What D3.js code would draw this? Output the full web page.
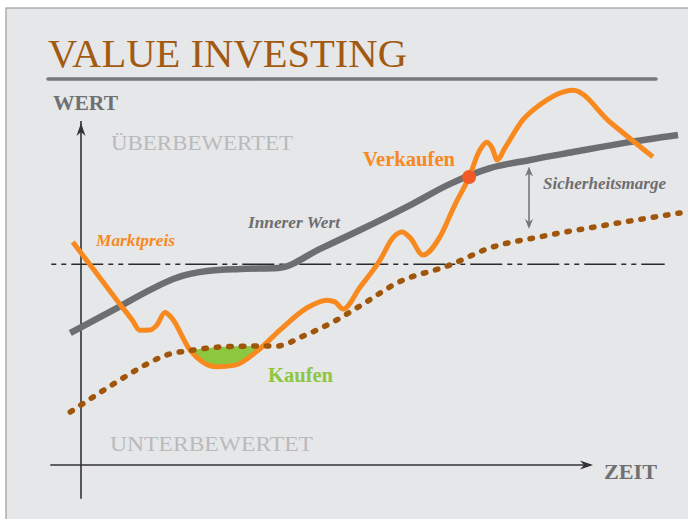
<!DOCTYPE html>
<html><head><meta charset="utf-8">
<script src="https://cdn.jsdelivr.net/npm/d3@7"></script>
<style>html,body{margin:0;padding:0;background:#fff;} svg{display:block;}</style>
</head><body>
<svg id="chart" width="688" height="519"></svg>
<script>
// ---------- DATA (time t, value v; conceptual units) ----------
const innererWert = [[-2.1,38.6],[7.0,45.9],[13.5,51.2],[18.0,54.4],[24.6,56.7],[31.1,57.3],[38.5,57.6],
  [46.7,63.2],[54.5,68.7],[64.3,76.0],[72.1,82.2],[79.9,86.8],[87.7,89.2],[96.1,91.5],[106.2,94.2],[116.6,96.5]];
const marktpreis = [[-1.6,65.2],[2.7,56.7],[7.0,48.2],[10.0,42.4],[11.5,39.4],[13.5,39.5],[14.8,40.9],[16.4,44.6],[17.6,43.2],[21.3,33.6],
  [23.8,30.1],[26.6,28.7],[30.1,29.2],[34.4,33.3],[38.9,39.5],[44.1,45.9],[48.0,48.2],[49.6,47.7],[51.2,45.6],
  [54.5,52.0],[58.4,59.9],[60.9,66.4],[62.7,68.1],[64.3,66.4],[66.8,61.4],[70.1,66.7],[73.0,76.0],[75.8,84.2],
  [77.9,92.1],[79.3,94.4],[80.3,92.7],[81.3,89.2],[82.8,92.7],[86.3,100.9],[89.6,105.3],[96.1,109.6],[103.3,100.3],[111.7,90.1]];
const sicherheitsLinie = [[-2.1,15.5],[7.0,24.3],[11.5,28.4],[16.8,32.2],[21.9,33.6],[27.1,34.5],[35.0,34.8],[38.3,34.8],
  [43.4,37.7],[49.2,41.8],[54.5,46.5],[61.7,53.2],[72.1,58.5],[79.9,63.5],[89.6,66.7],[102.7,70.2],[117.0,73.7]];
const referenzNiveau = [[-6,58.7],[114,58.7]];
const verkaufPunkt = [75.8,84.2];
const margeSpanne = [[87.5,87.3],[87.5,69.0]];
const labels = {title:"VALUE INVESTING", yAxis:"WERT", xAxis:"ZEIT", over:"ÜBERBEWERTET", under:"UNTERBEWERTET",
  market:"Marktpreis", intrinsic:"Innerer Wert", margin:"Sicherheitsmarge", sell:"Verkaufen", buy:"Kaufen"};

// ---------- LAYOUT ----------
const svg = d3.select("#chart");
const x = d3.scaleLinear([0,100],[81,593]);
const y = d3.scaleLinear([0,100],[465,123]);
const serif = "'Liberation Serif','Times New Roman',serif";

svg.append("rect").attr("x",6).attr("y",8).attr("width",700).attr("height",520)
  .attr("fill","#e6e7e8").attr("stroke","#9c9c9c").attr("stroke-width",1.2);

function txt(s,px,py,opt){
  const t = svg.append("text").attr("x",px).attr("y",py).text(s)
    .attr("font-family",serif).attr("font-size",opt.size).attr("fill",opt.fill)
    .attr("font-weight",opt.weight||"normal").attr("font-style",opt.style||"normal");
  if(opt.len) t.attr("textLength",opt.len).attr("lengthAdjust","spacingAndGlyphs");
  return t;
}
txt(labels.title,48,67,{size:40,fill:"#a25a12",len:359});
svg.append("line").attr("x1",48).attr("x2",656).attr("y1",79).attr("y2",79)
  .attr("stroke","#77787a").attr("stroke-width",3.5).attr("stroke-linecap","round");
txt(labels.yAxis,53,110,{size:21,fill:"#6f7073",weight:"bold",len:65});
txt(labels.xAxis,604,479,{size:21,fill:"#6f7073",weight:"bold",len:53});
txt(labels.over,111,150,{size:22,fill:"#b9babc",len:182});
txt(labels.under,110,451,{size:22,fill:"#b9babc",len:203});

// reference dash-dot line
const lin = d3.line().x(d=>x(d[0])).y(d=>y(d[1]));
svg.append("path").attr("d",lin(referenzNiveau)).attr("fill","none").attr("stroke","#2b2b2b")
  .attr("stroke-width",1.5).attr("stroke-dasharray","32 5 5 5 5 5").attr("stroke-dashoffset",36);

// axes
const ax = "#333335";
svg.append("line").attr("x1",x(0)).attr("x2",x(0)).attr("y1",y(-9.9)).attr("y2",y(100)-2)
  .attr("stroke",ax).attr("stroke-width",1.6);
svg.append("line").attr("x1",x(-6)).attr("x2",x(100)-2).attr("y1",y(0)).attr("y2",y(0))
  .attr("stroke",ax).attr("stroke-width",1.6);
function head(tx,ty,angle,len,wid,fill){
  svg.append("path").attr("d",`M0,0L${-len},${-wid}L${-len*0.7},0L${-len},${wid}Z`)
    .attr("transform",`translate(${tx},${ty}) rotate(${angle})`).attr("fill",fill);
}
head(x(0),y(100),-90,13,4.5,ax);
head(x(100),y(0),0,13,4.5,ax);

const curve = d3.line().x(d=>x(d[0])).y(d=>y(d[1])).curve(d3.curveMonotoneX);

// intrinsic value
svg.append("path").attr("d",curve(innererWert)).attr("fill","none").attr("stroke","#6d6e71")
  .attr("stroke-width",6.5).attr("stroke-linejoin","round");

// green buy zone = below margin line AND above market price
const defs = svg.append("defs");
defs.append("clipPath").attr("id","aboveMarket").append("path")
  .attr("d", d3.area().x(d=>x(d[0])).y0(y(200)).y1(d=>y(d[1])).curve(d3.curveMonotoneX)(marktpreis));
svg.append("path").attr("clip-path","url(#aboveMarket)")
  .attr("d", d3.area().x(d=>x(d[0])).y0(y(-50)).y1(d=>y(d[1])).curve(d3.curveMonotoneX)(sicherheitsLinie))
  .attr("fill","#8dc63f");

// market price
svg.append("path").attr("d",curve(marktpreis)).attr("fill","none").attr("stroke","#f7891f")
  .attr("stroke-width",5).attr("stroke-linejoin","round").attr("stroke-linecap","butt");

// margin of safety line (dotted)
svg.append("path").attr("d",curve(sicherheitsLinie)).attr("fill","none").attr("stroke","#a0560a")
  .attr("stroke-width",5.5).attr("stroke-linecap","round").attr("stroke-dasharray","2.5 10");

// sell point
svg.append("circle").attr("cx",x(verkaufPunkt[0])).attr("cy",y(verkaufPunkt[1])).attr("r",7).attr("fill","#f15a24");

// margin arrow
const mg = "#77787a";
svg.append("line").attr("x1",x(margeSpanne[0][0])).attr("x2",x(margeSpanne[1][0]))
  .attr("y1",y(margeSpanne[0][1])+3).attr("y2",y(margeSpanne[1][1])-3).attr("stroke",mg).attr("stroke-width",1.6);
head(x(margeSpanne[0][0]),y(margeSpanne[0][1]),-90,10,4,mg);
head(x(margeSpanne[1][0]),y(margeSpanne[1][1]),90,10,4,mg);

// annotations
txt(labels.market,96,246,{size:17,fill:"#f7891f",weight:"bold",style:"italic",len:79});
txt(labels.intrinsic,248,228,{size:17,fill:"#6d6e71",weight:"bold",style:"italic",len:92});
txt(labels.margin,543,189,{size:16,fill:"#6d6e71",weight:"bold",style:"italic",len:123});
txt(labels.sell,363,166,{size:22,fill:"#f7891f",weight:"bold",len:92});
txt(labels.buy,268,382,{size:21,fill:"#8dc63f",weight:"bold",len:65});
</script>
</body></html>
